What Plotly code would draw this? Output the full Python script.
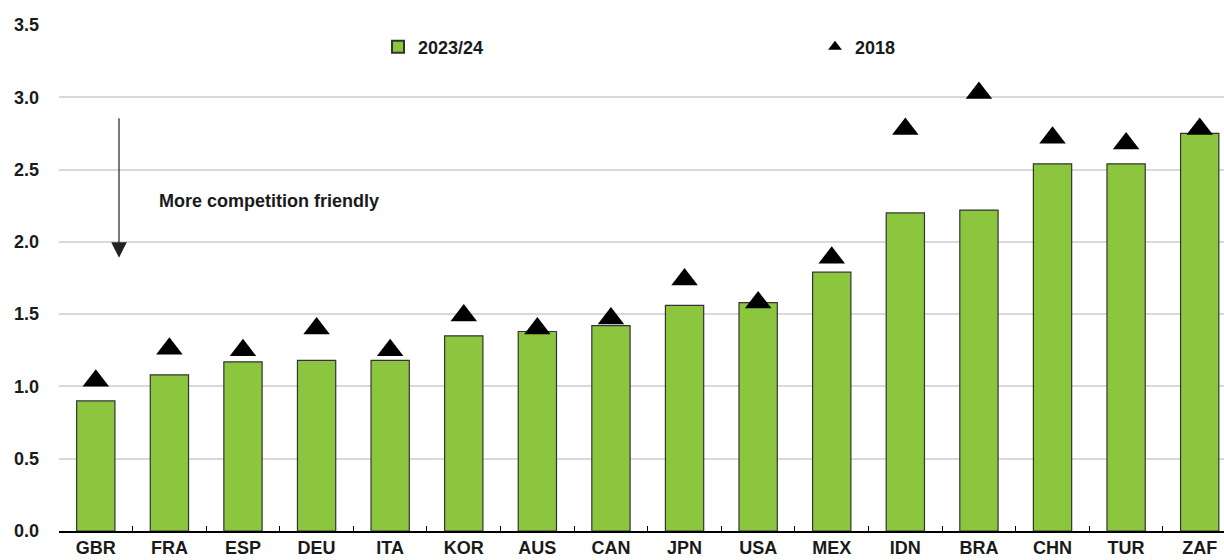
import plotly.graph_objects as go

countries = ["GBR", "FRA", "ESP", "DEU", "ITA", "KOR", "AUS", "CAN", "JPN", "USA",
             "MEX", "IDN", "BRA", "CHN", "TUR", "ZAF"]
values_2023 = [0.90, 1.08, 1.17, 1.18, 1.18, 1.35, 1.38, 1.42, 1.56, 1.58,
               1.79, 2.20, 2.22, 2.54, 2.54, 2.75]
values_2018 = [1.04, 1.26, 1.25, 1.40, 1.25, 1.49, 1.40, 1.47, 1.74, 1.58,
               1.89, 2.78, 3.03, 2.72, 2.68, 2.78]
y_ticks = [0.0, 0.5, 1.0, 1.5, 2.0, 2.5, 3.0, 3.5]

FONT = "Liberation Sans, Arial, sans-serif"
TXT = "#1a1a1a"

L, T, B = 59, 25, 29
W, H = 1224, 560
pw = W - L
ph = H - T - B

fig = go.Figure()
fig.add_trace(go.Bar(
    x=countries, y=values_2023, name="<b>2023/24</b>",
    marker=dict(color="#8CC63F", line=dict(color="#333333", width=1.2)),
    width=0.52, legend="legend",
))
fig.add_trace(go.Scatter(
    x=countries, y=values_2018, name="<b>2018</b>", mode="markers",
    marker=dict(symbol="triangle-up", size=23, color="black"),
    legend="legend2",
))

fig.add_annotation(
    x=(119 - L) / pw, xref="paper", y=1.89, yref="y",
    ax=0, ay=-141, axref="pixel", ayref="pixel",
    text="", showarrow=True, arrowhead=2, arrowsize=2.6, arrowwidth=1.2, arrowcolor="#222",
)
fig.add_annotation(
    x=(157 - L) / pw, xref="paper", y=2.28, yref="y",
    text="<b>More competition friendly</b>", showarrow=False,
    xanchor="left", yanchor="middle",
    font=dict(family=FONT, size=18, color=TXT),
)

leg_common = dict(
    orientation="h", xanchor="left", y=(531 - 47) / ph, yanchor="middle",
    font=dict(family=FONT, size=18, color=TXT),
    bgcolor="rgba(0,0,0,0)", itemsizing="constant",
)

fig.update_layout(
    width=W, height=H,
    margin=dict(l=L, r=0, t=T, b=B),
    plot_bgcolor="white", paper_bgcolor="white",
    font=dict(family=FONT, size=18, color=TXT),
    showlegend=True,
    legend=dict(x=(378 - L) / pw, **leg_common),
    legend2=dict(x=(815 - L) / pw, **leg_common),
    xaxis=dict(
        type="category", range=[-0.5, 15.33],
        showline=True, linecolor="black", linewidth=1.5,
        ticks="inside", tickson="boundaries", ticklen=5, tickcolor="black",
        showgrid=False,
        tickfont=dict(family=FONT, size=18, color=TXT, weight="bold"),
    ),
    yaxis=dict(
        range=[0, 3.5], tickvals=y_ticks, ticktext=[f"{v:.1f}" for v in y_ticks],
        showgrid=True, gridcolor="#d9d9d9", gridwidth=1.5,
        zeroline=False, showline=False, ticks="",
        ticklabelstandoff=19,
        tickfont=dict(family=FONT, size=18, color=TXT, weight="bold"),
    ),
)

fig.write_html("out.html", config={"displayModeBar": False},
               post_script="document.body.style.margin='0';")
